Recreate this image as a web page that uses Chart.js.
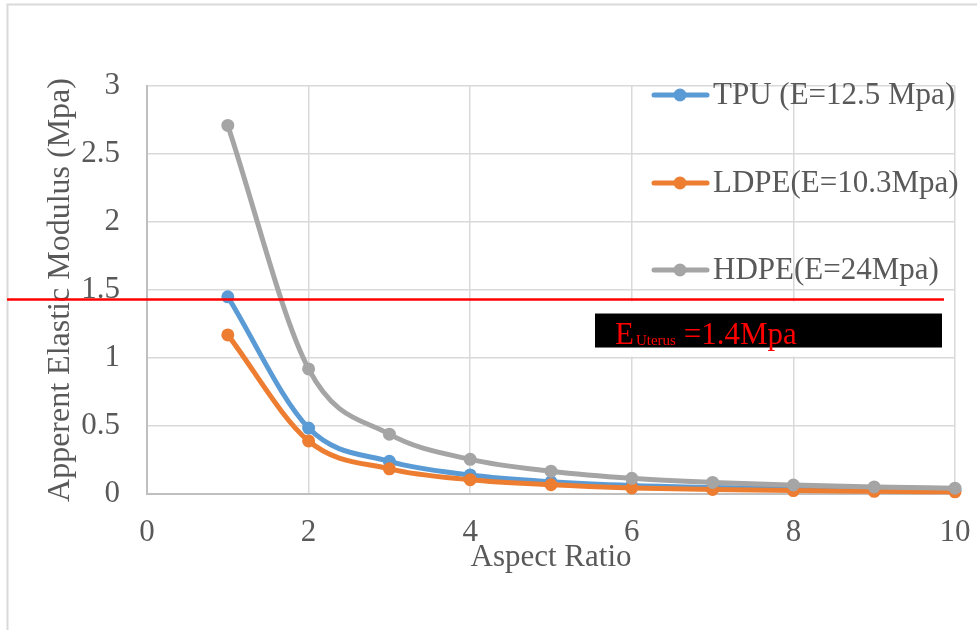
<!DOCTYPE html>
<html>
<head>
<meta charset="utf-8">
<script src="https://cdn.jsdelivr.net/npm/chart.js@4.4.1/dist/chart.umd.min.js"></script>
<style>
  html, body { margin: 0; padding: 0; background: #fff; }
  #wrap { width: 977px; height: 630px; }
</style>
</head>
<body>
<div id="wrap"><canvas id="modulusChart" width="977" height="630"></canvas></div>
<script>
// Données
const aspectRatios = [1, 2, 3, 4, 5, 6, 7, 8, 9, 10];
const tpuValues  = [1.45, 0.485, 0.24, 0.14, 0.09, 0.062, 0.048, 0.038, 0.032, 0.028];
const ldpeValues = [1.17, 0.39, 0.185, 0.105, 0.068, 0.045, 0.033, 0.025, 0.02, 0.016];
const hdpeValues = [2.71, 0.92, 0.44, 0.255, 0.168, 0.115, 0.085, 0.066, 0.052, 0.043];
const seriesLabels = ['TPU (E=12.5 Mpa)', 'LDPE(E=10.3Mpa)', 'HDPE(E=24Mpa)'];
const seriesColors = ['#5b9bd5', '#ed7d31', '#a5a5a5'];
const uterusModulus = 1.43; // position de la ligne rouge
const uterusLabel = ['E', 'Uterus', ' =1.4Mpa'];
const xTitle = 'Aspect Ratio';
const yTitle = 'Apperent Elastic Modulus (Mpa)';

const serif = "'Liberation Serif', 'Times New Roman', serif";
const textColor = '#595959';

function points(values) {
    return aspectRatios.map((x, i) => ({ x: x, y: values[i] }));
}

function makeDataset(i, values) {
    return {
        label: seriesLabels[i],
        data: points(values),
        borderColor: seriesColors[i],
        backgroundColor: seriesColors[i],
        pointBackgroundColor: seriesColors[i],
        pointBorderColor: seriesColors[i],
        borderWidth: 5,
        pointRadius: 5.5,
        pointBorderWidth: 2,
        cubicInterpolationMode: 'monotone',
        fill: false,
        clip: false,
        order: 3 - i // HDPE au-dessus
    };
}

// Ligne rouge, encadré et légende dessinés à la main
const decorPlugin = {
    id: 'decor',
    beforeDraw(chart) {
        const ctx = chart.ctx;
        ctx.save();
        ctx.fillStyle = '#ffffff';
        ctx.fillRect(0, 0, chart.width, chart.height);
        ctx.strokeStyle = '#d9d9d9';
        ctx.lineWidth = 2;
        ctx.beginPath();
        ctx.moveTo(7.5, chart.height);
        ctx.lineTo(7.5, 4.5);
        ctx.lineTo(chart.width, 4.5);
        ctx.stroke();
        ctx.restore();
    },
    afterDatasetsDraw(chart) {
        const ctx = chart.ctx;
        const y = chart.scales.y.getPixelForValue(uterusModulus);
        ctx.save();

        // encadré blanc + bandeau noir
        ctx.fillStyle = '#ffffff';
        ctx.fillRect(593, y + 2, 352, 55);
        ctx.fillStyle = '#000000';
        ctx.fillRect(595, y + 14, 347, 34);

        // ligne E utérus
        ctx.strokeStyle = '#ff0000';
        ctx.lineWidth = 2.5;
        ctx.beginPath();
        ctx.moveTo(7, y);
        ctx.lineTo(944, y);
        ctx.stroke();

        // texte rouge
        ctx.fillStyle = '#ff0000';
        ctx.textBaseline = 'alphabetic';
        ctx.textAlign = 'left';
        let tx = 615;
        const base = y + 44;
        ctx.font = '31px ' + serif;
        ctx.fillText(uterusLabel[0], tx, base);
        tx += ctx.measureText(uterusLabel[0]).width + 2;
        ctx.font = '15px ' + serif;
        ctx.fillText(uterusLabel[1], tx, base + 1);
        tx += ctx.measureText(uterusLabel[1]).width;
        ctx.font = '31px ' + serif;
        ctx.fillText(uterusLabel[2], tx, base);

        // légende
        const rows = [95, 183, 270];
        chart.data.datasets.forEach((ds, i) => {
            const ry = rows[i];
            ctx.strokeStyle = ds.borderColor;
            ctx.lineWidth = 5;
            ctx.lineCap = 'round';
            ctx.beginPath();
            ctx.moveTo(654, ry);
            ctx.lineTo(707, ry);
            ctx.stroke();
            ctx.fillStyle = ds.borderColor;
            ctx.beginPath();
            ctx.arc(680, ry, 6.5, 0, Math.PI * 2);
            ctx.fill();
            ctx.fillStyle = textColor;
            ctx.font = '31px ' + serif;
            ctx.textBaseline = 'middle';
            ctx.fillText(ds.label, 713, ry + 1);
        });
        ctx.restore();
    }
};

const ctx = document.getElementById('modulusChart').getContext('2d');
const chart = new Chart(ctx, {
    type: 'line',
    data: {
        datasets: [
            makeDataset(0, tpuValues),
            makeDataset(1, ldpeValues),
            makeDataset(2, hdpeValues)
        ]
    },
    options: {
        responsive: false,
        animation: false,
        devicePixelRatio: 1,
        layout: { padding: { top: 86, right: 22, left: 0, bottom: 0 } },
        scales: {
            x: {
                type: 'linear',
                min: 0,
                max: 10,
                ticks: { stepSize: 2, padding: 20, color: textColor, font: { family: serif, size: 31 } },
                grid: { color: '#d9d9d9', lineWidth: 1.5, drawTicks: false },
                border: { color: '#bfbfbf', width: 2 },
                title: {
                    display: true,
                    text: xTitle,
                    color: textColor,
                    font: { family: serif, size: 31 },
                    padding: { top: 0, bottom: 54 }
                },
                afterFit(scale) {
                    scale.height = 136;
                    scale.paddingLeft = 0;
                    scale.paddingRight = 0;
                }
            },
            y: {
                min: 0,
                max: 3,
                ticks: {
                    stepSize: 0.5,
                    padding: 27,
                    color: textColor,
                    font: { family: serif, size: 31 },
                    callback: (value) => String(Math.round(value * 10) / 10)
                },
                grid: { color: '#d9d9d9', lineWidth: 1.5, drawTicks: false },
                border: { color: '#bfbfbf', width: 2 },
                title: {
                    display: true,
                    text: yTitle,
                    color: textColor,
                    font: { family: serif, size: 32 },
                    padding: { top: 41, bottom: 0 }
                },
                afterFit(scale) {
                    scale.width = 147;
                    scale.paddingTop = 0;
                    scale.paddingBottom = 0;
                }
            }
        },
        plugins: {
            legend: { display: false },
            tooltip: { enabled: false }
        }
    },
    plugins: [decorPlugin]
});
</script>
</body>
</html>
